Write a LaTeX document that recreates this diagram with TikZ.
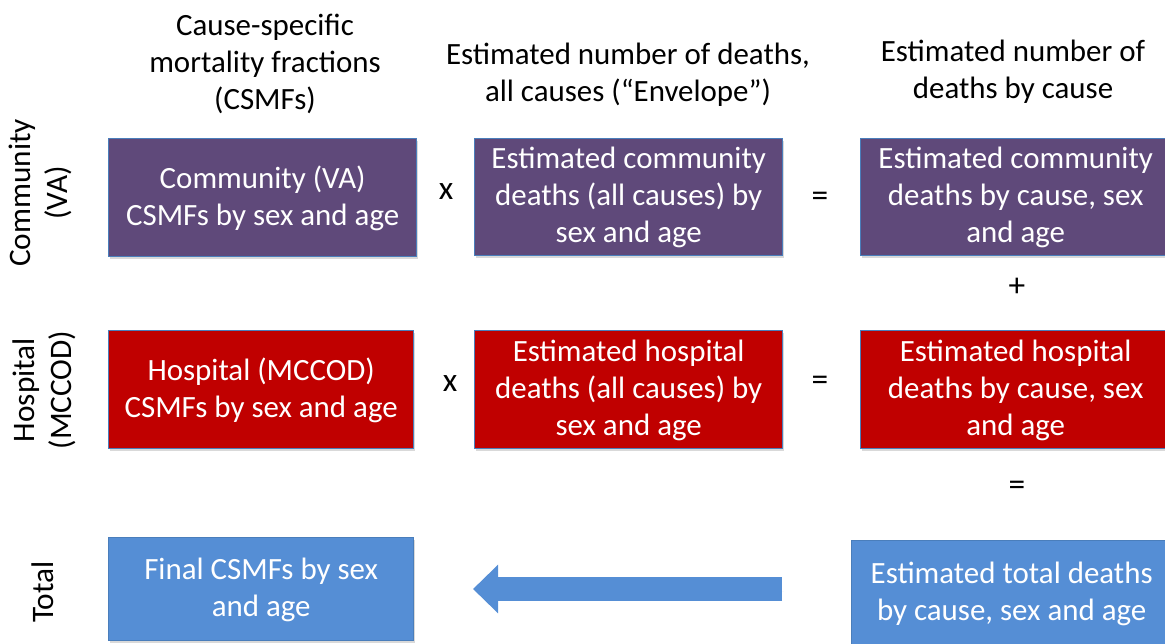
\documentclass[tikz,border=0pt]{standalone}
\usepackage{fontspec}
\setmainfont{Carlito}
\usepackage{xcolor}
\usetikzlibrary{arrows.meta}
\usetikzlibrary{shadows}
\definecolor{commpurple}{HTML}{5F497A}
\definecolor{hospred}{HTML}{C00000}
\definecolor{totblue}{HTML}{558ED5}
\definecolor{edgeblue}{HTML}{4A7EBB}
\tikzset{box/.style={draw=edgeblue, line width=0.8pt, text=white, anchor=north west,
   align=center, inner sep=2pt, text depth=0.5ex, font=\fontsize{17.6}{21}\selectfont,
   drop shadow={opacity=0.3, shadow xshift=1pt, shadow yshift=-1.2pt}},
 head/.style={align=center, font=\fontsize{17.6}{21}\selectfont},
 side/.style={align=center, rotate=90, font=\fontsize{17.8}{21}\selectfont},
 op/.style={font=\fontsize{19}{21}\selectfont},
 }

\begin{document}
\begin{tikzpicture}[x=0.02cm, y=-0.02cm]
        \useasboundingbox (0,0) rectangle (1165,643);
        % column headings
        \node[head] (h1) at (265, 64) {Cause-specific\\mortality fractions\\(CSMFs)};
        \node[head] (h2) at (628, 75) {Estimated number of deaths,\\all causes (``Envelope'')};
        \node[head] (h3) at (1013, 72) {Estimated number of\\deaths by cause};
        % row labels
        \node[side] (r1) at (40, 193) {Community\\(VA)};
        \node[side] (r2) at (44, 390) {Hospital\\(MCCOD)};
        \node[side] (r3) at (43, 592) {Total};
        % community row
        \node[box, fill=commpurple, minimum width=6.16cm, minimum height=2.36cm] (cva) at (108, 138) {Community (VA)\\CSMFs by sex and age};
        \node[box, fill=commpurple, minimum width=6.16cm, minimum height=2.34cm] (cenv) at (474, 138) {Estimated community\\deaths (all causes) by\\sex and age};
        \node[box, fill=commpurple, minimum width=6.2cm, minimum height=2.34cm] (cdeath) at (860, 138) {Estimated community\\deaths by cause, sex\\and age};
        % hospital row
        \node[box, fill=hospred, minimum width=6.1cm, minimum height=2.36cm] (hcs) at (108, 330) {Hospital (MCCOD)\\CSMFs by sex and age};
        \node[box, fill=hospred, minimum width=6.16cm, minimum height=2.36cm] (henv) at (474, 330) {Estimated hospital\\deaths (all causes) by\\sex and age};
        \node[box, fill=hospred, minimum width=6.2cm, minimum height=2.36cm] (hdeath) at (860, 330) {Estimated hospital\\deaths by cause, sex\\and age};
        % total row
        \node[box, fill=totblue, minimum width=6.1cm, minimum height=2.06cm] (fin) at (108, 537) {Final CSMFs by sex\\and age};
        \node[box, fill=totblue, minimum width=6.4cm, minimum height=2.1cm] (tot) at (851, 540) {Estimated total deaths\\by cause, sex and age};
        % operators
        \node[op] (x1) at (446, 192) {x};
        \node[op] (x2) at (450, 384) {x};
        \node[op] (e1) at (820, 199) {=};
        \node[op] (e2) at (820, 383) {=};
        \node[op] (p1) at (1017, 287) {+};
        \node[op] (e3) at (1017, 488) {=};
        % big arrow back to the final CSMFs
        \coordinate (a1) at (782, 589);
        \coordinate (a2) at (473, 589);
        \draw[totblue, line width=0.47cm, -{Triangle[length=0.5cm, width=0.94cm]},
              drop shadow={opacity=0.3, shadow xshift=1pt, shadow yshift=-1.2pt}] (a1) -- (a2);
    \end{tikzpicture}
\end{document}
